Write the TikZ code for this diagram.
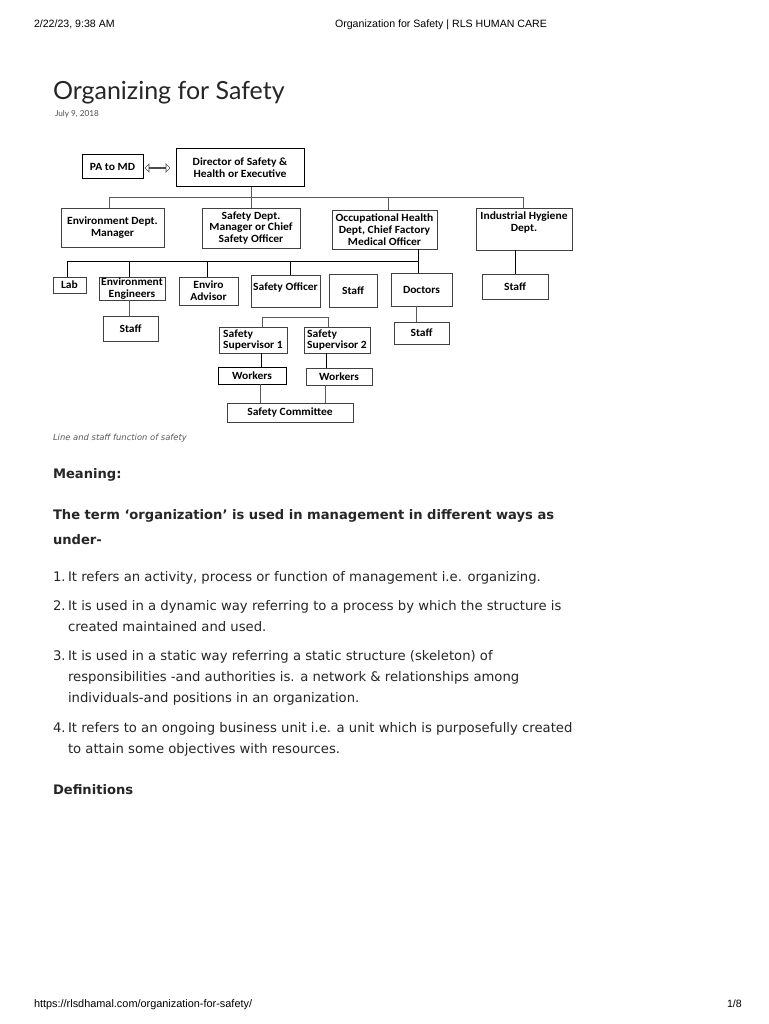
\documentclass[tikz,border=0pt]{standalone}
\usepackage{fontspec}
\usetikzlibrary{shapes.arrows}
\newfontfamily\bodyfont{DejaVu Sans}
\newfontfamily\diafont[FakeStretch=1.05]{Carlito}
\newfontfamily\hdrfont{Liberation Sans}
\newfontfamily\titlefont{Lato}
\definecolor{boxline}{gray}{0.25}
\definecolor{connline}{gray}{0.35}
\definecolor{captgray}{gray}{0.35}
\begin{document}
\begin{tikzpicture}[x=1pt,y=-1pt,
  box/.style={draw=boxline, line width=0.8pt, inner sep=0.5pt, align=center,
    font=\diafont\bfseries\fontsize{11}{11.8}\selectfont},
  conn/.style={draw=connline, line width=0.8pt},
  txt/.style={anchor=base west, inner sep=0pt, outer sep=0pt},
  bodytxt/.style={txt, font=\bodyfont\fontsize{13.2}{21}\selectfont, text=black!85},
  boldtxt/.style={txt, font=\bodyfont\bfseries\fontsize{13.1}{21}\selectfont, text=black!85}]
\useasboundingbox[fill=white] (0,0) rectangle (768,1024);

% page header / footer
\node[txt, font=\hdrfont\fontsize{10.6}{12}\selectfont] (hdate) at (34,28) {2/22/23, 9:38 AM};
\node[anchor=base, inner sep=0pt, font=\hdrfont\fontsize{10.6}{12}\selectfont] (htitle) at (441,28) {Organization for Safety | RLS HUMAN CARE};
\node[txt, font=\hdrfont\fontsize{10.9}{12}\selectfont] (furl) at (34,1007) {https://rlsdhamal.com/organization-for-safety/};
\node[anchor=base east, inner sep=0pt, font=\hdrfont\fontsize{10.6}{12}\selectfont] (fpage) at (742,1007) {1/8};

% title
\node[txt, font=\titlefont\fontsize{25}{30}\selectfont, text=black!85] (title) at (53,100) {Organizing for Safety};
\node[txt, font=\titlefont\fontsize{8.2}{10}\selectfont, text=black!70] (date) at (55,117) {July 9, 2018};

% ---------- chart ----------
\node[box, line width=1pt, draw=black, minimum width=61, minimum height=24] (pa) at (112.5,167) {PA to MD};
\node[box, line width=1pt, draw=black, minimum width=128, minimum height=38] (dir) at (240,168) {Director of Safety \&\\Health or Executive};
\node[double arrow, draw=black!70, line width=0.7pt, minimum width=8, double arrow head extend=2.5, minimum height=25, inner sep=0pt] (arr) at (157.5,168) {};

\node[box, minimum width=103, minimum height=39] (envm) at (112.5,227.5) {Environment Dept.\\Manager};
\node[box, minimum width=98, minimum height=40] (safd) at (251,228) {Safety Dept.\\Manager or Chief\\Safety Officer};
\node[box, minimum width=105, minimum height=39] (occ) at (384.5,229.5) {Occupational Health\\Dept, Chief Factory\\Medical Officer};
\node[box, minimum width=96, minimum height=42] (ind) at (524,229) {Industrial Hygiene\\Dept.\\ \strut};

\node[box, minimum width=33, minimum height=16] (lab) at (69.5,285) {Lab};
\node[box, minimum width=66, minimum height=23] (enveng) at (132,288.5) {Environment\\Engineers};
\node[box, minimum width=59, minimum height=28] (envadv) at (208.5,291) {Enviro\\Advisor};
\node[box, minimum width=69, minimum height=32, text depth=9pt] (safoff) at (285.5,291) {Safety Officer};
\node[box, minimum width=48, minimum height=33] (staffm) at (353,290.5) {Staff};
\node[box, minimum width=61, minimum height=33] (doc) at (421.5,289.5) {Doctors};
\node[box, minimum width=66, minimum height=25] (indstaff) at (515,286.5) {Staff};

\node[box, minimum width=55, minimum height=25] (envstaff) at (130.5,328.5) {Staff};
\node[box, minimum width=55, minimum height=22] (docstaff) at (421.5,333) {Staff};

\node[box, align=left, minimum width=68, minimum height=26] (sup1) at (253,340) {Safety\\Supervisor 1};
\node[box, align=left, minimum width=66, minimum height=26] (sup2) at (337,340) {Safety\\Supervisor 2};
\node[box, draw=black, minimum width=68, minimum height=17] (w1) at (252,375.5) {Workers};
\node[box, minimum width=66, minimum height=17] (w2) at (339,376.5) {Workers};
\node[box, minimum width=126, minimum height=19] (com) at (290,412.5) {Safety Committee};

% connectors level 1
\coordinate (bus1) at (251,197);
\draw[conn] (dir.south -| safd.north) -- (safd.north);
\draw[conn] ([xshift=-3.5pt]envm.north) -- ([xshift=-3.5pt]envm.north |- bus1) -- ([xshift=-1pt]ind.north |- bus1) -- ([xshift=-1pt]ind.north);
\draw[conn] ([xshift=3.5pt]occ.north) -- ([xshift=3.5pt]occ.north |- bus1);

% connectors level 2
\coordinate (bus2) at (418,261);
\draw[conn, draw=black] (occ.south -| bus2) -- (doc.north -| bus2);
\draw[conn, draw=black] ([xshift=-2.5pt]lab.north) -- ([xshift=-2.5pt]lab.north |- bus2) -- (bus2);
\draw[conn, draw=black] ([xshift=-3pt]enveng.north) -- ([xshift=-3pt]enveng.north |- bus2);
\draw[conn, draw=black] ([xshift=-1.5pt]envadv.north) -- ([xshift=-1.5pt]envadv.north |- bus2);
\draw[conn, draw=black] ([xshift=4.5pt]safoff.north) -- ([xshift=4.5pt]safoff.north |- bus2);
\draw[conn, draw=black] (ind.south -| indstaff.north) -- (indstaff.north);

% connectors level 3
\draw[conn] ([xshift=-1.5pt]envstaff.north |- enveng.south) -- ([xshift=-1.5pt]envstaff.north);
\draw[conn] ([xshift=-5.5pt]doc.south) -- ([xshift=-5.5pt]docstaff.north);
\coordinate (s1) at (262,317);
\coordinate (s2) at (328,317);
\draw[conn] (sup1.north -| s1) -- (s1) -- (s2) -- (sup2.north -| s2);
\draw[conn, draw=black] ([xshift=8pt]sup1.south) -- ([xshift=8pt]sup1.south |- w1.north);
\draw[conn, draw=black] ([xshift=-11pt]sup2.south) -- ([xshift=-11pt]sup2.south |- w2.north);
\draw[conn] ([xshift=8pt]w1.south) -- ([xshift=8pt]w1.south |- com.north);
\draw[conn] ([xshift=-14pt]w2.south) -- ([xshift=-14pt]w2.south |- com.north);

% caption
\node[txt, font=\bodyfont\itshape\fontsize{8.4}{10}\selectfont, text=captgray] (cap) at (53,440) {Line and staff function of safety};

% article text
\node[boldtxt] (mean) at (53,478) {Meaning:};
\node[boldtxt] (term1) at (53,519) {The term ‘organization’ is used in management in different ways as};
\node[boldtxt] (term2) at (53,544) {under-};

\node[bodytxt] (n1) at (53,581) {1.};
\node[bodytxt] (l1) at (68,581) {It refers an activity, process or function of management i.e. organizing.};
\node[bodytxt] (n2) at (53,610) {2.};
\node[bodytxt] (l2a) at (68,610) {It is used in a dynamic way referring to a process by which the structure is};
\node[bodytxt] (l2b) at (68,631) {created maintained and used.};
\node[bodytxt] (n3) at (53,660) {3.};
\node[bodytxt] (l3a) at (68,660) {It is used in a static way referring a static structure (skeleton) of};
\node[bodytxt] (l3b) at (68,681) {responsibilities -and authorities is. a network \& relationships among};
\node[bodytxt] (l3c) at (68,702) {individuals-and positions in an organization.};
\node[bodytxt] (n4) at (53,732) {4.};
\node[bodytxt] (l4a) at (68,732) {It refers to an ongoing business unit i.e. a unit which is purposefully created};
\node[bodytxt] (l4b) at (68,753) {to attain some objectives with resources.};

\node[boldtxt] (defs) at (53,794) {Definitions};
\end{tikzpicture}
\end{document}
